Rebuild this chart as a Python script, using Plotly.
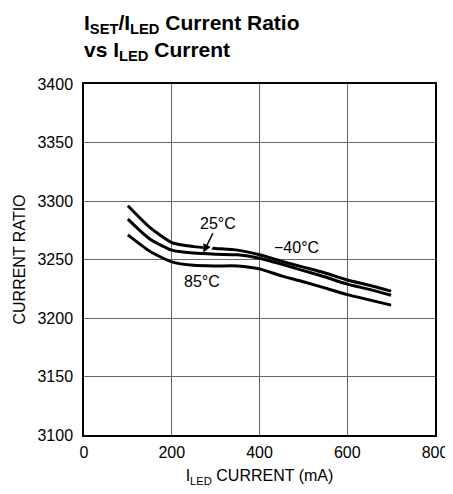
import plotly.graph_objects as go

# ---- data ----
current_ma = [100, 150, 200, 250, 300, 350, 400, 450, 500, 550, 600, 650, 700]
ratio_m40 = [3296, 3277.5, 3264.5, 3261, 3259.5, 3258, 3254, 3248.5, 3243.5, 3238.5, 3232.5, 3228, 3223]
ratio_25 = [3284.5, 3267.5, 3258, 3255.5, 3254.5, 3254, 3251, 3246, 3240.5, 3235, 3229, 3224.5, 3219.5]
ratio_85 = [3271, 3257, 3248, 3245, 3244.5, 3244.5, 3242, 3236, 3231, 3225.5, 3220, 3215.5, 3211]

x_ticks = [0, 200, 400, 600, 800]
y_ticks = [3100, 3150, 3200, 3250, 3300, 3350, 3400]

labels = {"m40": "\u221240\u00b0C", "25": "25\u00b0C", "85": "85\u00b0C"}
label_pos = {"m40": (484, 3260), "85": (268, 3231)}
label25_pos = (305, 3281)
arrow_tip = (272, 3256)
gap_from = (297, 3271)
gap_to = (279, 3258.8)

FONT = "Liberation Sans, Arial, sans-serif"

fig = go.Figure()
for ys in (ratio_m40, ratio_25, ratio_85):
    fig.add_trace(go.Scatter(
        x=current_ma, y=ys, mode="lines",
        line=dict(color="black", width=3, shape="spline", smoothing=0.6),
        showlegend=False, hoverinfo="skip"))

# page has an 8px body margin, so the figure is laid out 8px up/left
W, H = 453, 494
ml, mr, mt, mb = 76, 26, 76, 67
ph = H - mt - mb
pw = W - ml - mr

def py(px):
    return (H - mb - px) / ph

annotations = []
# title lines
annotations.append(dict(
    text="<b>I<sub>SET</sub>/I<sub>LED</sub> Current Ratio</b>",
    xref="paper", yref="paper", x=(74 - ml) / pw, y=py(16),
    xanchor="left", yanchor="middle", showarrow=False,
    font=dict(family=FONT, size=21, color="black")))
annotations.append(dict(
    text="<b>vs I<sub>LED</sub> Current</b>",
    xref="paper", yref="paper", x=(74 - ml) / pw, y=py(43),
    xanchor="left", yanchor="middle", showarrow=False,
    font=dict(family=FONT, size=21, color="black")))

# curve labels
for k in ("m40", "85"):
    lx, ly = label_pos[k]
    annotations.append(dict(
        text=labels[k], x=lx, y=ly, xref="x", yref="y",
        showarrow=False, font=dict(family=FONT, size=16, color="black")))

# 25°C label with arrow pointing to its curve
annotations.append(dict(
    text=labels["25"], x=arrow_tip[0], y=arrow_tip[1],
    ax=label25_pos[0], ay=label25_pos[1],
    xref="x", yref="y", axref="x", ayref="y",
    showarrow=True, arrowhead=2, arrowsize=1.1, arrowwidth=1.5, arrowcolor="black",
    font=dict(family=FONT, size=16, color="black")))

fig.update_layout(
    width=W, height=H,
    margin=dict(l=ml, r=mr, t=mt, b=mb, autoexpand=False),
    paper_bgcolor="white", plot_bgcolor="white",
    font=dict(family=FONT, color="black", size=16),
    annotations=annotations,
    shapes=[dict(type="line", xref="x", yref="y",
                 x0=gap_from[0], y0=gap_from[1], x1=gap_to[0], y1=gap_to[1],
                 line=dict(color="white", width=9), layer="above")],
)
fig.update_xaxes(
    range=[0, 800], tickvals=x_ticks, ticktext=[str(v) for v in x_ticks],
    showgrid=True, gridcolor="#666", gridwidth=1,
    showline=True, linecolor="black", linewidth=1.5, mirror=True,
    ticks="", zeroline=False, automargin=False,
    tickfont=dict(family=FONT, size=16), ticklabelstandoff=2,
    title=dict(text="I<sub>LED</sub> CURRENT (mA)", font=dict(family=FONT, size=16), standoff=10),
)
fig.update_yaxes(
    range=[3100, 3400], tickvals=y_ticks, ticktext=[str(v) for v in y_ticks],
    showgrid=True, gridcolor="#666", gridwidth=1,
    showline=True, linecolor="black", linewidth=1.5, mirror=True,
    ticks="", zeroline=False, automargin=False,
    tickfont=dict(family=FONT, size=16), ticklabelstandoff=6,
    title=dict(text="CURRENT RATIO", font=dict(family=FONT, size=16), standoff=8),
)

fig.write_html("out.html")
